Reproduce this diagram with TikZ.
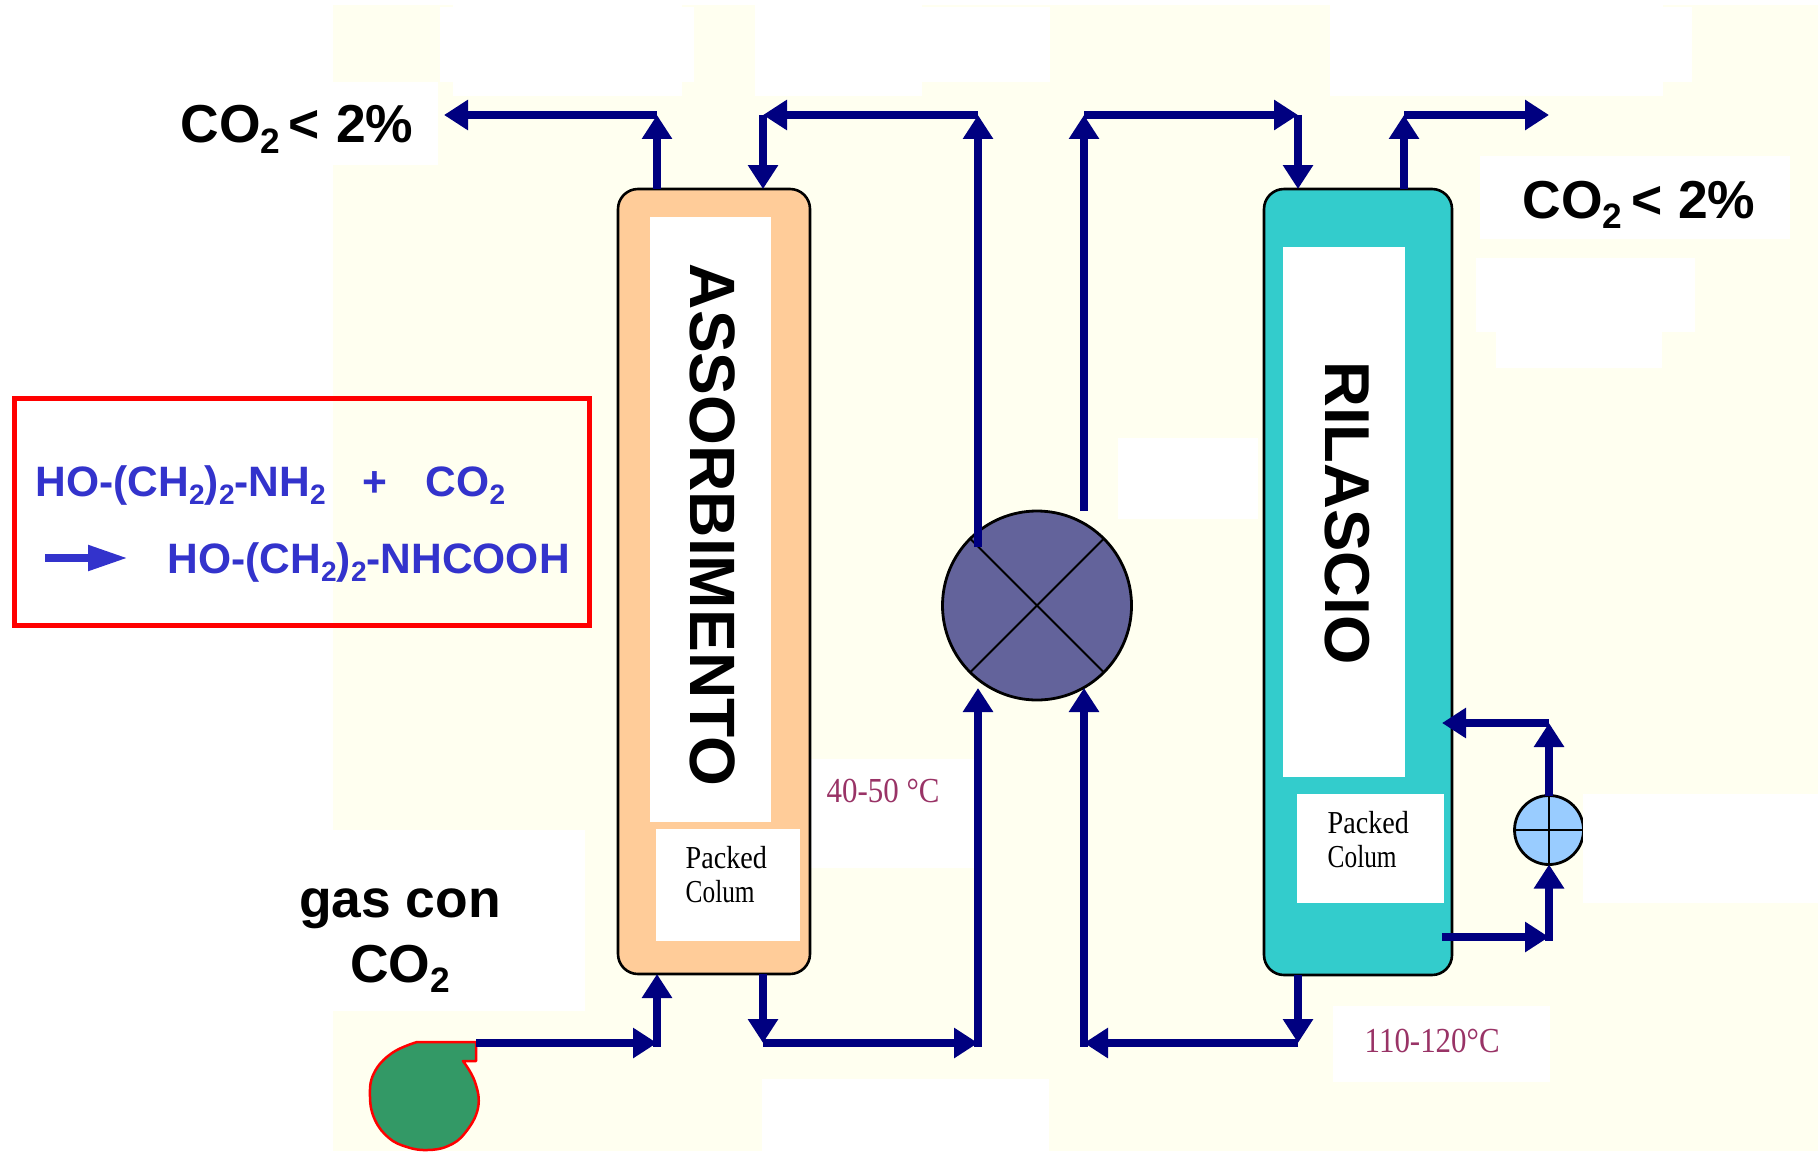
\documentclass[tikz,border=0pt]{standalone}
\usepackage{fontspec}
\usepackage{tikz}
\usetikzlibrary{arrows.meta}
\setmainfont{Liberation Sans}
\newfontfamily\bitfont[FakeStretch=0.88]{Liberation Serif}
\definecolor{ivorybg}{HTML}{FFFFF0}
\definecolor{pipeblue}{HTML}{000080}
\definecolor{reactblue}{HTML}{3333CC}
\definecolor{tempred}{HTML}{993366}
\definecolor{abscolor}{HTML}{FFCC99}
\definecolor{relcolor}{HTML}{33CCCC}
\definecolor{exchcolor}{HTML}{63639B}
\definecolor{reboilcolor}{HTML}{99CCFF}
\definecolor{fancolor}{HTML}{339966}
\newcommand{\subtwo}{\raisebox{-0.2em}{\scalebox{0.66}{2}}}
\newcommand{\colmtext}{\scalebox{0.9}[1]{Colum}}
\tikzset{
	pipe/.style={draw=pipeblue, line width=0.88mm, -{Triangle[length=2.4mm,width=2.9mm]}},
	column/.style={draw=black, line width=0.26mm, rounded corners=2mm, minimum width=#1, outer sep=0pt, inner sep=0pt},
	patch/.style={fill=white, draw=none},
	boldlabel/.style={font=\fontsize{15.2}{18}\selectfont\bfseries, anchor=base west, inner sep=0pt},
	reactlabel/.style={font=\fontsize{12.1}{15}\selectfont\bfseries, text=reactblue, anchor=base west, inner sep=0pt},
	tempslabel/.style={font=\fontsize{10}{12}\bitfont, text=tempred, anchor=base west, inner sep=0pt},
	packedlabel/.style={font=\fontsize{9.1}{9.4}\bitfont, align=left, anchor=base west, inner sep=0pt},
	titlelabel/.style={font=\fontsize{#1}{20}\selectfont\bfseries, rotate=-90, inner sep=0pt},
}
\begin{document}
\begin{tikzpicture}[x=0.1mm,y=-0.1mm]
	\useasboundingbox (0,0) rectangle (1818,1151);

	% background and the white patches on it
	\fill[ivorybg] (333,5) rectangle (1818,1151);
	\fill[patch] (333,82) rectangle (438,165);
	\fill[patch] (440,7) rectangle (694,82);
	\fill[patch] (453,5) rectangle (682,96);
	\fill[patch] (755,5) rectangle (922,96);
	\fill[patch] (922,7) rectangle (1050,82);
	\fill[patch] (1330,5) rectangle (1663,96);
	\fill[patch] (1663,7) rectangle (1692,82);
	\fill[patch] (1480,156) rectangle (1790,239);
	\fill[patch] (1476,258) rectangle (1695,332);
	\fill[patch] (1496,332) rectangle (1662,368);
	\fill[patch] (1118,438) rectangle (1258,519);
	\fill[patch] (810,759) rectangle (974,868);
	\fill[patch] (333,830) rectangle (585,1011);
	\fill[patch] (762,1079) rectangle (1049,1151);
	\fill[patch] (1333,1006) rectangle (1550,1082);

	% columns
	\node[column=1.92cm, fill=abscolor, minimum height=7.85cm] (abscol) at (714,581.5) {};
	\node[column=1.88cm, fill=relcolor, minimum height=7.86cm] (relcol) at (1358,582) {};
	\fill[white] (650,217) rectangle (771,822);
	\fill[white] (656,829) rectangle (800,941);
	\fill[white] (1283,247) rectangle (1405,777);
	\fill[white] (1297,794) rectangle (1444,903);
	\node[titlelabel=18.24] (abstitle) at (712.5,525) {ASSORBIMENTO};
	\node[titlelabel=18.05] (reltitle) at (1347,513) {RILASCIO};
	\node[packedlabel] (abspacked) at (685,902) {Packed\\\colmtext};
	\node[packedlabel] (relpacked) at (1327,867) {Packed\\\colmtext};

	% heat exchanger
	\node[circle, draw=black, line width=0.28mm, fill=exchcolor, minimum size=1.89cm, inner sep=0pt, outer sep=0pt] (exch) at (1037,605.5) {};
	\draw[line width=0.2mm] (exch.north west) -- (exch.south east);
	\draw[line width=0.2mm] (exch.north east) -- (exch.south west);

	% reboiler, cut by its white patch
	\node[circle, draw=black, line width=0.28mm, fill=reboilcolor, minimum size=0.69cm, inner sep=0pt, outer sep=0pt] (reboil) at (1549,830) {};
	\draw[line width=0.24mm] (reboil.north) -- (reboil.south);
	\draw[line width=0.24mm] (reboil.west) -- (reboil.east);
	\fill[patch] (1583,794) rectangle (1818,903);

	% fan
	\draw[draw=red, fill=fancolor, line width=0.25mm, line join=round] (417,1042) -- (476,1042) -- (476,1061) -- (463,1061)
		-- plot[smooth, tension=0.7] coordinates {(463,1061) (475,1082) (478,1108) (465,1133) (448,1146) (427,1150) (407,1147) (389,1138) (375,1120) (370,1097) (374,1073) (392,1053) (417,1042)} -- cycle;
	\coordinate (fanout) at (476,1043);

	% corners and free ends
	\coordinate (absoff) at (444,115);
	\coordinate (absup) at (657,115);
	\coordinate (absfeed) at (763,115);
	\coordinate (leanturn) at (978,115);
	\coordinate (richturn) at (1084,115);
	\coordinate (relfeed) at (1298,115);
	\coordinate (relup) at (1404,115);
	\coordinate (reloff) at (1549,115);
	\coordinate (exchleft) at (978,547);
	\coordinate (exchright) at (1084,511);
	\coordinate (exchinleft) at (978,688);
	\coordinate (exchinright) at (1084,688);
	\coordinate (gasturn) at (657,1043);
	\coordinate (absout) at (763,1043);
	\coordinate (leanin) at (978,1043);
	\coordinate (richin) at (1084,1043);
	\coordinate (relout) at (1298,1043);
	\coordinate (boilout) at (1442,937);
	\coordinate (boilturn) at (1549,937);
	\coordinate (boilback) at (1549,723);
	\coordinate (boilin) at (1442,723);

	% pipes
	\draw[pipe] (abscol.north -| absup) -- (absup);
	\draw[pipe] (absup) -- (absoff);
	\draw[pipe] (leanturn) -- (absfeed);
	\draw[pipe] (absfeed) -- (abscol.north -| absfeed);
	\draw[pipe] (exchleft) -- (leanturn);
	\draw[pipe] (exchright) -- (richturn);
	\draw[pipe] (richturn) -- (relfeed);
	\draw[pipe] (relfeed) -- (relcol.north -| relfeed);
	\draw[pipe] (relcol.north -| relup) -- (relup);
	\draw[pipe] (relup) -- (reloff);
	\draw[pipe] (fanout) -- (gasturn);
	\draw[pipe, line cap=rect] (gasturn) -- (abscol.south -| gasturn);
	\draw[pipe] (abscol.south -| absout) -- (absout);
	\draw[pipe] (absout) -- (leanin);
	\draw[pipe, line cap=rect] (leanin) -- (exchinleft);
	\draw[pipe] (relcol.south -| relout) -- (relout);
	\draw[pipe] (relout) -- (richin);
	\draw[pipe, line cap=rect] (richin) -- (exchinright);
	\draw[pipe] (boilout) -- (boilturn);
	\draw[pipe, line cap=rect] (boilturn) -- (reboil.south);
	\draw[pipe] (reboil.north) -- (boilback);
	\draw[pipe] (boilback) -- (boilin);

	% labels
	\node[boldlabel] (co2left) at (180,143) {CO\subtwo\hspace{0.16em}<\hspace{0.3em}2\%};
	\node[boldlabel] (co2right) at (1522,218) {CO\subtwo\hspace{0.16em}<\hspace{0.3em}2\%};
	\node[boldlabel, anchor=base] (gaslabel) at (400,917) {gas con};
	\node[boldlabel, anchor=base] (gasco2) at (400,982) {CO\subtwo};
	\node[tempslabel] (absTemp) at (826,802) {40-50 °C};
	\node[tempslabel] (relTemp) at (1364,1052) {110-120°C};

	% reaction box
	\node[draw=red, line width=0.5mm, minimum width=5.75cm, minimum height=2.27cm, outer sep=0pt] (reactbox) at (302,512) {};
	\node[reactlabel] (reactone) at (35,496) {HO-(CH\subtwo)\subtwo-NH\subtwo};
	\node[reactlabel, anchor=base] (reactplus) at (375,496) {+};
	\node[reactlabel] (reactco2) at (425,496) {CO\subtwo};
	\node[reactlabel] (reacttwo) at (167,573) {HO-(CH\subtwo)\subtwo-NHCOOH};
	\coordinate (reactfrom) at (45,558);
	\coordinate (reactto) at (128,558);
	\draw[draw=reactblue, fill=reactblue, line width=0.8mm, -{Triangle[length=4mm,width=2.4mm]}] (reactfrom) -- (reactto);
\end{tikzpicture}
\end{document}
